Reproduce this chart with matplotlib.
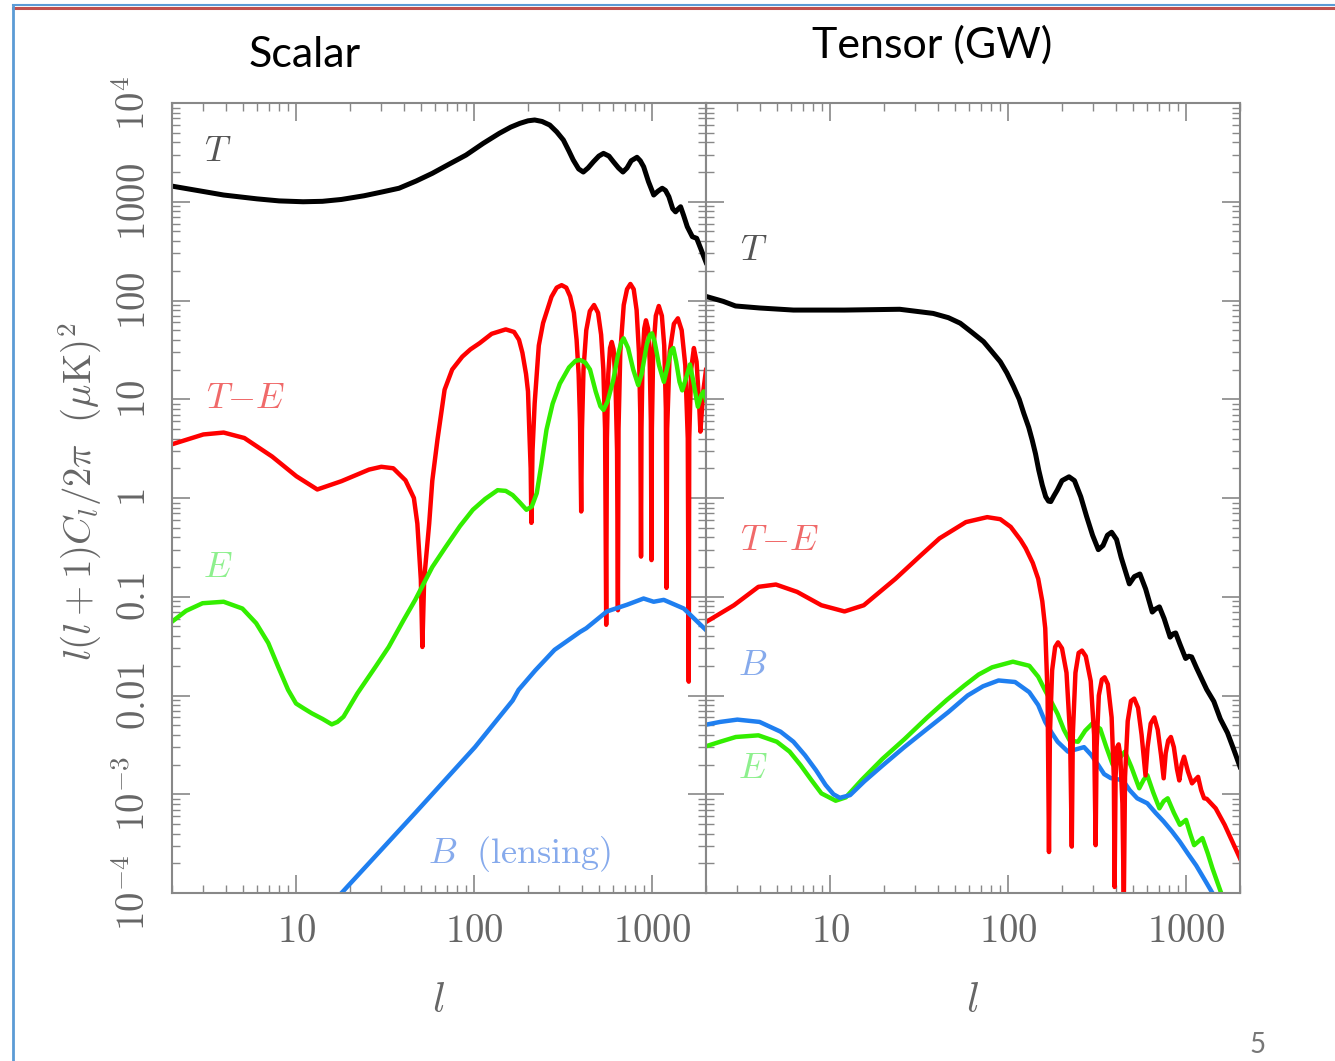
import matplotlib
matplotlib.use("Agg")
import matplotlib.pyplot as plt
from matplotlib.ticker import LogLocator, NullFormatter
from matplotlib.lines import Line2D

plt.rcParams["mathtext.fontset"] = "cm"

# ---- scalar panel ----
sc_T_l = [2, 3, 3.9, 6, 8, 10.9, 14, 17.9, 24, 30.5, 37.7, 47, 58, 72, 89.7, 112, 138, 160,
          180, 200, 218, 240, 265, 290, 316, 340, 359, 385, 409, 435, 466, 500, 531, 570,
          604, 645, 683, 720, 760, 819, 855, 893, 950, 1017, 1075, 1135, 1185, 1237, 1300,
          1349, 1400, 1440, 1500, 1570, 1676, 1773, 1865, 2000]
sc_T = [1440, 1270, 1170, 1070, 1020, 1000, 1010, 1055, 1150, 1260, 1370, 1620, 1940, 2400,
        2970, 3900, 4930, 5700, 6220, 6600, 6730, 6500, 5980, 5100, 4220, 3250, 2650, 2150,
        2000, 2200, 2540, 2900, 3090, 2900, 2540, 2200, 2000, 2200, 2600, 2820, 2600, 2260,
        1600, 1170, 1280, 1370, 1300, 1125, 850, 790, 850, 890, 720, 558, 443, 426, 338, 244]

sc_TE_l = [2, 3, 3.9, 5.1, 7.3, 10, 13.1, 17.9, 25.6, 30, 35, 41, 45.7, 47.8, 50, 51, 52.2,
           55.7, 58, 62, 68, 75, 85.5, 95, 107, 125, 150, 167, 178, 186, 195, 200, 204, 207, 209,
           212, 218, 230, 243, 271, 290, 309, 328, 345, 362, 375, 385, 392, 398,
           402, 410, 425, 445, 470, 495, 515, 530, 542, 550,
           555, 565, 578, 591, 605, 620, 633, 640,
           645, 660, 690, 720, 752, 785, 815, 840, 855, 863,
           868, 880, 900, 920, 945, 965, 980, 988,
           993, 1010, 1045, 1086, 1130, 1165, 1190, 1200,
           1210, 1250, 1320, 1390, 1460, 1530, 1580, 1600,
           1610, 1650, 1710, 1770, 1830, 1860, 1930, 2000]
sc_TE = [3.5, 4.4, 4.6, 4.05, 2.63, 1.66, 1.22, 1.48, 1.94, 2.07, 2.0, 1.51, 1.0, 0.55, 0.15,
         0.031, 0.15, 0.55, 1.5, 3.9, 12.5, 20, 27, 32, 37, 46, 51, 48, 40, 29.6, 18, 12, 4.2,
         2, 0.56,
         3, 9.1, 35, 59, 109, 135, 143, 135, 110, 75, 40, 18, 6, 0.73,
         5, 20, 50, 78, 90, 75, 45, 20, 5, 0.052,
         4, 18, 33, 38, 32, 15, 3, 0.073,
         5, 30, 90, 130, 147, 130, 80, 30, 7, 0.255,
         5, 25, 52, 63, 52, 25, 6, 0.235,
         5, 30, 70, 88, 70, 35, 8, 0.123,
         5, 30, 58, 66, 50, 22, 4, 0.0138,
         4, 20, 33, 24, 9, 4.7, 12, 19.8]

sc_E_l = [1.95, 2.4, 2.97, 3.9, 4.97, 5.94, 6.95, 7.9, 8.98, 9.95, 11, 12.2, 14, 15.8, 17,
          18.4, 22, 27.8, 33, 40, 46.5, 58, 69, 83, 98, 115, 135, 150, 164, 180, 196, 210,
          224, 238, 254, 275, 302, 340, 370, 392, 420, 446, 480, 510, 531, 560, 603, 640,
          670, 689, 730, 780, 832, 870, 930, 970, 995, 1030, 1090, 1160, 1220, 1270, 1310,
          1360, 1420, 1470, 1540, 1625, 1700, 1800, 1880, 1940, 2000]
sc_E = [0.054, 0.072, 0.086, 0.089, 0.076, 0.054, 0.034, 0.0195, 0.0114, 0.0083, 0.0074,
        0.0066, 0.0058, 0.0051, 0.0054, 0.0061, 0.0105, 0.0195, 0.031, 0.058, 0.093, 0.2,
        0.32, 0.52, 0.76, 0.98, 1.2, 1.18, 1.07, 0.9, 0.76, 0.82, 1.12, 2.2, 4.9, 9, 14.4,
        21, 24.5, 25, 23.5, 20, 12, 8.5, 7.8, 9.5, 15.7, 28, 38, 41.4, 33, 20, 13.9, 18, 36,
        45, 46.5, 38, 22, 15, 22, 31, 33, 24, 15, 12.3, 16, 22.5, 15, 8.4, 11, 12, 9.8]

sc_B_l = [16.5, 46.6, 100.7, 164, 177, 220, 282, 392, 425, 555, 720, 892, 1016, 1158, 1500, 2000]
sc_B = [8.5e-5, 6.5e-4, 3.0e-3, 8.9e-3, 0.0114, 0.018, 0.029, 0.044, 0.048, 0.071, 0.083,
        0.096, 0.089, 0.093, 0.076, 0.046]

# ---- tensor panel ----
tn_T_l = [2, 2.5, 2.93, 4, 6.2, 12, 24.5, 37.8, 46, 53.6, 62, 72.5, 80, 90, 98, 107, 115,
          122, 130, 136, 142, 148, 155, 162, 168, 173, 180, 188, 200, 219, 235, 255, 275,
          297, 320, 340, 360, 380, 405, 430, 478, 510, 548, 590, 643, 670, 705, 750, 810,
          840, 870, 920, 990, 1030, 1070, 1140, 1217, 1300, 1426, 1550, 1700, 1850, 2000]
tn_T = [110, 98, 88, 84, 80, 80, 81.5, 74, 67, 58.9, 48, 38.3, 31, 24, 18.5, 13.4, 10, 7.2,
        5.2, 3.86, 2.8, 1.92, 1.35, 1.03, 0.93, 0.92, 1.05, 1.2, 1.5, 1.64, 1.5, 1.03, 0.65,
        0.42, 0.3, 0.33, 0.42, 0.45, 0.38, 0.25, 0.135, 0.16, 0.17, 0.12, 0.07, 0.075, 0.079,
        0.06, 0.039, 0.042, 0.043, 0.033, 0.0237, 0.025, 0.0246, 0.019, 0.0148, 0.0115,
        0.0087, 0.0058, 0.0042, 0.0028, 0.0019]

tn_TE_l = [2, 2.87, 3.94, 4.94, 6.5, 8.9, 12, 15.4, 23.2, 32, 41, 57.7, 76, 90, 103, 117,
           125, 137, 147, 155, 161, 166, 169,
           171, 176, 183, 190, 200, 212, 222, 227,
           230, 238, 248, 259, 272, 290, 303, 309,
           313, 322, 335, 347, 362, 380, 391, 395,
           400, 408, 416, 425, 437, 445,
           452, 468, 488, 509, 535, 560, 589,
           605, 630, 660, 690, 720, 745,
           765, 790, 818, 850, 885, 912,
           940, 970, 1020, 1075, 1120, 1163, 1210, 1257, 1300, 1460, 1640, 2000]
tn_TE = [0.0555, 0.082, 0.126, 0.133, 0.112, 0.082, 0.071, 0.082, 0.152, 0.26, 0.39, 0.57,
         0.64, 0.61, 0.51, 0.376, 0.31, 0.22, 0.152, 0.09, 0.048, 0.01, 2.6e-4,
         0.004, 0.018, 0.031, 0.0345, 0.03, 0.017, 0.004, 2.95e-4,
         0.004, 0.017, 0.027, 0.0285, 0.025, 0.014, 0.004, 3.05e-4,
         0.003, 0.01, 0.0145, 0.0153, 0.013, 0.006, 0.0015, 1.15e-4,
         0.0015, 0.003, 0.0032, 0.0025, 0.0008, 8e-5,
         0.0015, 0.0055, 0.0088, 0.0093, 0.0075, 0.004, 1.55e-3,
         0.003, 0.0052, 0.006, 0.0045, 0.0025, 1.45e-3,
         0.0026, 0.0035, 0.0038, 0.003, 0.0018, 1.38e-3,
         0.002, 0.0024, 0.0017, 1.29e-3, 0.0014, 1.5e-3, 0.0011, 9.1e-4, 9e-4, 7.2e-4,
         4.9e-4, 2.24e-4]

tn_E_l = [1.93, 2.4, 2.94, 3.94, 5.0, 5.9, 6.8, 7.8, 8.9, 10.7, 12.2, 15, 19.6, 26, 35, 45,
          56.5, 68, 81, 106, 131, 147, 161, 175, 189, 205, 221, 246, 270, 296, 328, 355, 385,
          420, 451, 490, 543, 575, 603, 650, 705, 745, 785, 850, 919, 995, 1050, 1105, 1230,
          1320, 1400, 1600]
tn_E = [3.0e-3, 3.4e-3, 3.8e-3, 3.95e-3, 3.4e-3, 2.7e-3, 1.97e-3, 1.4e-3, 1.02e-3, 8.6e-4,
        9.3e-4, 1.4e-3, 2.28e-3, 3.6e-3, 6.0e-3, 9e-3, 0.0126, 0.0163, 0.0193, 0.022, 0.020,
        0.0155, 0.0112, 8.5e-3, 6.5e-3, 4.5e-3, 3.5e-3, 3.4e-3, 4.4e-3, 5.2e-3, 4.6e-3,
        3e-3, 2.0e-3, 2.3e-3, 2.7e-3, 1.9e-3, 1.15e-3, 1.4e-3, 1.56e-3, 1.05e-3, 7.2e-4,
        8.5e-4, 9.1e-4, 6.5e-4, 4.9e-4, 5.5e-4, 4e-4, 3.05e-4, 3.6e-4, 2.5e-4, 1.78e-4, 9e-5]

tn_B_l = [1.93, 2.4, 3.0, 4.0, 5.25, 6.2, 7.2, 8.3, 9.4, 10.4, 11.3, 12.9, 15.5, 19.6, 26,
          35, 46, 59, 72, 88, 109, 131, 147, 161, 175, 189, 216, 240, 266, 292, 320, 345,
          375, 410, 440, 480, 529, 603, 670, 745, 830, 919, 1020, 1135, 1270, 1400, 1450]
tn_B = [5.0e-3, 5.4e-3, 5.7e-3, 5.4e-3, 4.3e-3, 3.4e-3, 2.48e-3, 1.75e-3, 1.24e-3, 1.0e-3,
        9.2e-4, 9.8e-4, 1.35e-3, 1.95e-3, 3.0e-3, 4.6e-3, 6.8e-3, 0.01, 0.0124, 0.0142,
        0.0137, 0.0108, 8e-3, 5.4e-3, 4.2e-3, 3.4e-3, 2.7e-3, 2.85e-3, 3.0e-3, 2.5e-3,
        1.97e-3, 1.6e-3, 1.46e-3, 1.42e-3, 1.38e-3, 1.1e-3, 9.1e-4, 8.1e-4, 6.5e-4, 5.3e-4,
        4.2e-4, 3.3e-4, 2.5e-4, 1.9e-4, 1.35e-4, 1e-4, 8.5e-5]

ytick_vals = [1e-4, 1e-3, 1e-2, 1e-1, 1, 10, 100, 1000, 1e4]
ytick_txt = [r"$10^{-4}$", r"$10^{-3}$", r"$0.01$", r"$0.1$", r"$1$", r"$10$", r"$100$",
             r"$1000$", r"$10^4$"]
xtick_vals = [10, 100, 1000]
xtick_txt = [r"$10$", r"$100$", r"$1000$"]

RED, GREEN, BLUE = "#ff0000", "#33ee00", "#1f7ff0"
GREY = "#666666"

W, H = 1335, 1061
fig = plt.figure(figsize=(W / 100, H / 100), dpi=100)
ax_s = fig.add_axes([172 / W, 1 - 893 / H, 534 / W, 790 / H])
ax_t = fig.add_axes([706 / W, 1 - 893 / H, 534 / W, 790 / H], sharey=ax_s)

for ax in (ax_s, ax_t):
    ax.set_xscale("log")
    ax.set_yscale("log")
    ax.set_xlim(2, 2000)
    ax.set_ylim(1e-4, 1e4)
    ax.set_xticks(xtick_vals, labels=xtick_txt)
    ax.xaxis.set_minor_locator(LogLocator(subs=range(2, 10), numticks=20))
    ax.xaxis.set_minor_formatter(NullFormatter())
    ax.tick_params(which="both", direction="in", top=True, right=True, color="#888888",
                   labelcolor=GREY, labelsize=28)
    ax.tick_params(which="major", length=13, width=1.2, pad=14)
    ax.tick_params(which="minor", length=6, width=1.0)
    for sp in ax.spines.values():
        sp.set_color("#888888")
        sp.set_linewidth(1.5)

ax_s.set_yticks(ytick_vals, labels=ytick_txt, rotation=90, va="center")
ax_s.yaxis.set_minor_locator(LogLocator(subs=range(2, 10), numticks=20))
ax_s.yaxis.set_minor_formatter(NullFormatter())
ax_t.tick_params(labelleft=False)

lw_k, lw_c = 3.6, 3.2
# scalar curves
ax_s.plot(sc_T_l, sc_T, color="black", lw=lw_k, solid_joinstyle="round")
ax_s.plot(sc_TE_l, sc_TE, color=RED, lw=lw_c, solid_joinstyle="round")
ax_s.plot(sc_E_l, sc_E, color=GREEN, lw=lw_c, solid_joinstyle="round")
ax_s.plot(sc_B_l, sc_B, color=BLUE, lw=lw_c, solid_joinstyle="round")

# tensor curves
ax_t.plot(tn_T_l, tn_T, color="black", lw=lw_k, solid_joinstyle="round")
ax_t.plot(tn_E_l, tn_E, color=GREEN, lw=lw_c, solid_joinstyle="round")
ax_t.plot(tn_B_l, tn_B, color=BLUE, lw=lw_c, solid_joinstyle="round")
ax_t.plot(tn_TE_l, tn_TE, color=RED, lw=lw_c, solid_joinstyle="round")

lab = dict(fontsize=26, ha="center", va="center")
ax_s.text(3.6, 3300, r"$T$", color="#555555", **lab)
ax_s.text(5.15, 10.2, r"$T{-}E$", color="#f06a6a", **lab)
ax_s.text(3.6, 0.2, r"$E$", color="#8ef08e", **lab)
ax_s.text(180, 2.5e-4, r"$B\ \ (\mathrm{lensing})$", color="#86aaec", **lab)
ax_t.text(3.72, 325, r"$T$", color="#555555", **lab)
ax_t.text(5.15, 0.376, r"$T{-}E$", color="#f06a6a", **lab)
ax_t.text(3.67, 0.0204, r"$B$", color="#86aaec", **lab)
ax_t.text(3.67, 1.86e-3, r"$E$", color="#8ef08e", **lab)

# axis titles and slide texts
fig.text(80 / W, 1 - 492 / H, r"$l(l+1)C_l/2\pi\ \ (\mu\mathrm{K})^2$", rotation=90,
         ha="center", va="center", fontsize=28, color=GREY)
fig.text(438 / W, 1 - 1000 / H, r"$l$", ha="center", va="center", fontsize=30, color=GREY)
fig.text(972 / W, 1 - 1000 / H, r"$l$", ha="center", va="center", fontsize=30, color=GREY)
fig.text(305 / W, 1 - 55 / H, "Scalar", ha="center", va="center", fontsize=31,
         family="Lato", color="black")
fig.text(932 / W, 1 - 45 / H, "Tensor (GW)", ha="center", va="center", fontsize=31,
         family="Lato", color="black")
fig.text(1258 / W, 1 - 1058 / H, "5", ha="center", va="bottom", fontsize=20,
         family="Lato", color="#777777")

# slide frame
fig.add_artist(Line2D([13 / W, 1], [1 - 5 / H, 1 - 5 / H], transform=fig.transFigure,
                      color="#5b9bd5", lw=1.5))
fig.add_artist(Line2D([13 / W, 1], [1 - 7.5 / H, 1 - 7.5 / H], transform=fig.transFigure,
                      color="#c0504d", lw=2.2))
fig.add_artist(Line2D([13 / W, 13 / W], [0, 1 - 5 / H], transform=fig.transFigure,
                      color="#5b9bd5", lw=2.0))

fig.savefig("out.png", dpi=100)
